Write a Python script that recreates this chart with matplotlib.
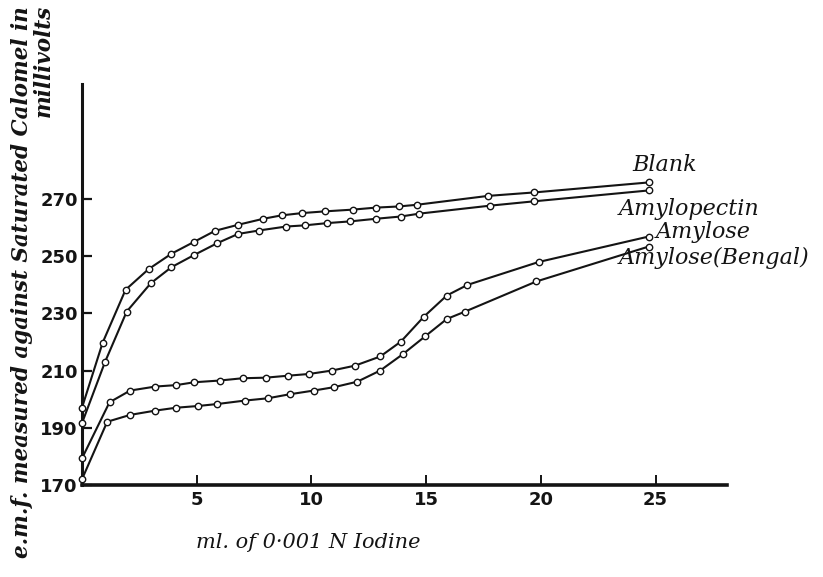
### e.m.f. against saturated calomel vs ml of iodine, four starch samples
import numpy as np
import matplotlib
matplotlib.use('Agg')
import matplotlib.pyplot as plt

# readings taken off the original figure
blank_x = [0, 0.9, 1.9, 2.9, 3.9, 4.9, 5.8, 6.8, 7.9, 8.7, 9.6, 10.6, 11.8, 12.8, 13.8, 14.6, 17.7, 19.7, 24.7]
blank_y = [197, 219.7, 238.2, 245.4, 250.8, 255, 258.8, 260.9, 263, 264.2, 265, 265.6, 266.2, 266.9, 267.3, 267.9, 271, 272.2, 275.7]

amylopectin_x = [0, 1.0, 1.95, 3.0, 3.9, 4.9, 5.9, 6.8, 7.7, 8.9, 9.7, 10.7, 11.7, 12.8, 13.9, 14.7, 17.8, 19.7, 24.7]
amylopectin_y = [191.6, 212.9, 230.6, 240.5, 246.1, 250.4, 254.5, 257.7, 258.9, 260.3, 260.7, 261.5, 262.1, 263, 263.8, 264.8, 267.6, 269.1, 272.9]

amylose_x = [0, 1.2, 2.1, 3.2, 4.1, 4.9, 6.0, 7.0, 8.0, 9.0, 9.9, 10.9, 11.9, 13.0, 13.9, 14.9, 15.9, 16.8, 19.9, 24.7]
amylose_y = [179.3, 198.9, 203, 204.4, 204.9, 205.9, 206.5, 207.3, 207.5, 208.2, 208.8, 210, 211.7, 214.9, 220.1, 228.8, 236.2, 239.9, 247.9, 256.8]

bengal_x = [0, 1.1, 2.1, 3.2, 4.1, 5.05, 5.9, 7.1, 8.1, 9.05, 10.1, 11.0, 12.0, 13.0, 14.0, 14.95, 15.9, 16.7, 19.8, 24.7]
bengal_y = [172, 192.1, 194.5, 196, 197, 197.6, 198.3, 199.5, 200.3, 201.7, 203, 204.2, 206.1, 210, 215.8, 221.9, 228, 230.6, 241.1, 253.3]

labels = ['Blank', 'Amylopectin', 'Amylose', 'Amylose(Bengal)']
xticks = [5, 10, 15, 20, 25]
yticks = [170, 190, 210, 230, 250, 270]

ink = '#141414'
fig = plt.figure(figsize=(8.23, 5.77), dpi=100)
ax = fig.add_axes([0.0996, 0.1594, 0.7834, 0.6946])

series = [(blank_x, blank_y), (amylopectin_x, amylopectin_y),
          (amylose_x, amylose_y), (bengal_x, bengal_y)]
for xs, ys in series:
    ax.plot(xs, ys, '-', color=ink, lw=1.5, marker='o', ms=4.6,
            mfc='white', mec=ink, mew=1.0, clip_on=False, zorder=3)

ax.set_xlim(0, 28.1)
ax.set_ylim(170, 310)
for s in ['top', 'right']:
    ax.spines[s].set_visible(False)
ax.spines['left'].set_linewidth(2.2)
ax.spines['bottom'].set_linewidth(2.6)
ax.spines['left'].set_color(ink)
ax.spines['bottom'].set_color(ink)

ax.set_xticks(xticks)
ax.set_xticklabels([str(t) for t in xticks])
ax.set_yticks(yticks)
ax.set_yticklabels([str(t) for t in yticks])
ax.tick_params(axis='x', direction='in', length=7, width=1.4, pad=4,
               labelsize=13, colors=ink)
ax.tick_params(axis='y', direction='in', length=7, width=1.6, pad=3,
               labelsize=13, colors=ink)
for lab in ax.get_xticklabels() + ax.get_yticklabels():
    lab.set_family(['Liberation Sans Narrow', 'DejaVu Sans'])
    lab.set_fontweight('bold')

# curve names, right hand side
lab_pos = [(24.0, 281.9), (23.4, 266.5), (25.0, 258.5), (23.4, 249.4)]
for name, (tx, ty) in zip(labels, lab_pos):
    ax.text(tx, ty, name, fontsize=16, style='italic', family='DejaVu Serif',
            color=ink, ha='left', va='center', clip_on=False)

fig.text(0.027, 0.511, 'e.m.f. measured against Saturated Calomel in',
         rotation=90, ha='center', va='center', fontsize=15.5,
         style='italic', weight='bold', family='DejaVu Serif', color=ink)
fig.text(0.053, 0.992, 'millivolts', rotation=90, ha='center', va='top',
         fontsize=15.5, style='italic', weight='bold', family='DejaVu Serif',
         color=ink)
fig.text(0.374, 0.059, 'ml. of 0\u00b7001 N Iodine', ha='center', va='center',
         fontsize=15, style='italic', family='DejaVu Serif', color=ink)

plt.savefig('out.png', dpi=100)
